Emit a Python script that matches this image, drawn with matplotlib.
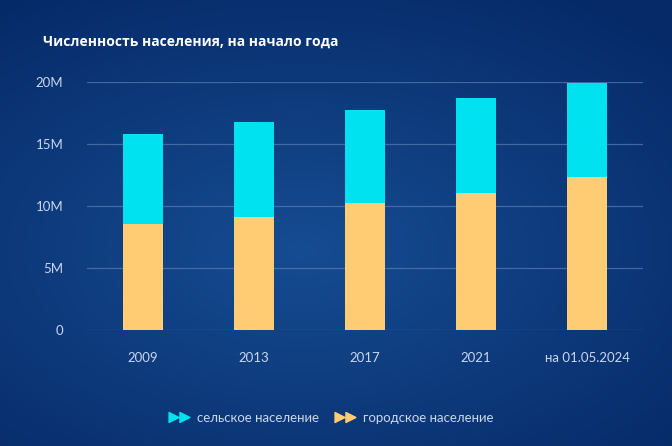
import numpy as np
import matplotlib
matplotlib.use("Agg")
import matplotlib.pyplot as plt
from matplotlib.lines import Line2D

categories = ["2009", "2013", "2017", "2021", "на 01.05.2024"]
urban = [8.55, 9.14, 10.27, 11.08, 12.38]      # millions
rural = [7.28, 7.69, 7.48, 7.69, 7.56]         # millions
y_ticks = [0, 5, 10, 15, 20]
y_tick_labels = ["0", "5M", "10M", "15M", "20M"]
title = "Численность населения, на начало года"
series_names = ["сельское население", "городское население"]

C_URBAN = "#FFCC73"
C_RURAL = "#00E2EF"
TXT = "#C9D6EE"

fig = plt.figure(figsize=(6.72, 4.46), dpi=100)

# background gradient
bg = fig.add_axes([0, 0, 1, 1])
bg.set_axis_off()
H, W = 446, 672
yy, xx = np.mgrid[0:H, 0:W]
d = np.sqrt(((xx - 300) / 520.0) ** 2 + ((yy - 250) / 300.0) ** 2)
d = np.clip(d, 0, 1)
c_center = np.array([0x16, 0x4C, 0x92]) / 255.0
c_edge = np.array([0x06, 0x2A, 0x68]) / 255.0
img = c_center[None, None, :] * (1 - d[..., None]) + c_edge[None, None, :] * d[..., None]
bg.imshow(img, extent=[0, 1, 0, 1], aspect="auto", origin="upper")
bg.set_xlim(0, 1)
bg.set_ylim(0, 1)

ax = fig.add_axes([87 / 672, 116.3 / 446, 556 / 672, 247.4 / 446])
ax.patch.set_alpha(0)
x = np.arange(len(categories))
w = 0.36
ax.bar(x, urban, width=w, color=C_URBAN, zorder=3, linewidth=0)
ax.bar(x, rural, width=w, bottom=urban, color=C_RURAL, zorder=3, linewidth=0)

ax.set_xlim(-0.5, len(categories) - 0.5)
ax.set_ylim(0, 20)
ax.set_yticks(y_ticks)
ax.set_yticklabels(y_tick_labels)
ax.set_xticks(x)
ax.set_xticklabels(categories)
for yt in y_ticks:
    ax.axhline(yt, color="#5A7DB4", lw=0.9, alpha=0.7, zorder=1)
for s in ax.spines.values():
    s.set_visible(False)
ax.tick_params(axis="both", length=0, colors=TXT, labelsize=9.5)
ax.tick_params(axis="y", pad=17)
ax.tick_params(axis="x", pad=16)
for lab in ax.get_xticklabels() + ax.get_yticklabels():
    lab.set_fontfamily("Lato")

fig.text(43 / 672, 1 - 42 / 446, title, color="white", fontsize=10,
         fontweight="bold", fontfamily="Open Sans", va="center", ha="left")

handles = [
    Line2D([], [], marker=r"$\blacktriangleright\!\!\blacktriangleright$", color=C_RURAL,
           markersize=15, linestyle="none"),
    Line2D([], [], marker=r"$\blacktriangleright\!\!\blacktriangleright$", color=C_URBAN,
           markersize=15, linestyle="none"),
]
leg = fig.legend(handles, series_names, loc="center", bbox_to_anchor=(332 / 672, 1 - 418 / 446),
                 ncol=2, frameon=False, handlelength=1.3, handletextpad=0.7, columnspacing=1.3,
                 prop={"family": "Lato", "size": 9.5})
for t in leg.get_texts():
    t.set_color(TXT)

fig.savefig("out.png", dpi=100)
